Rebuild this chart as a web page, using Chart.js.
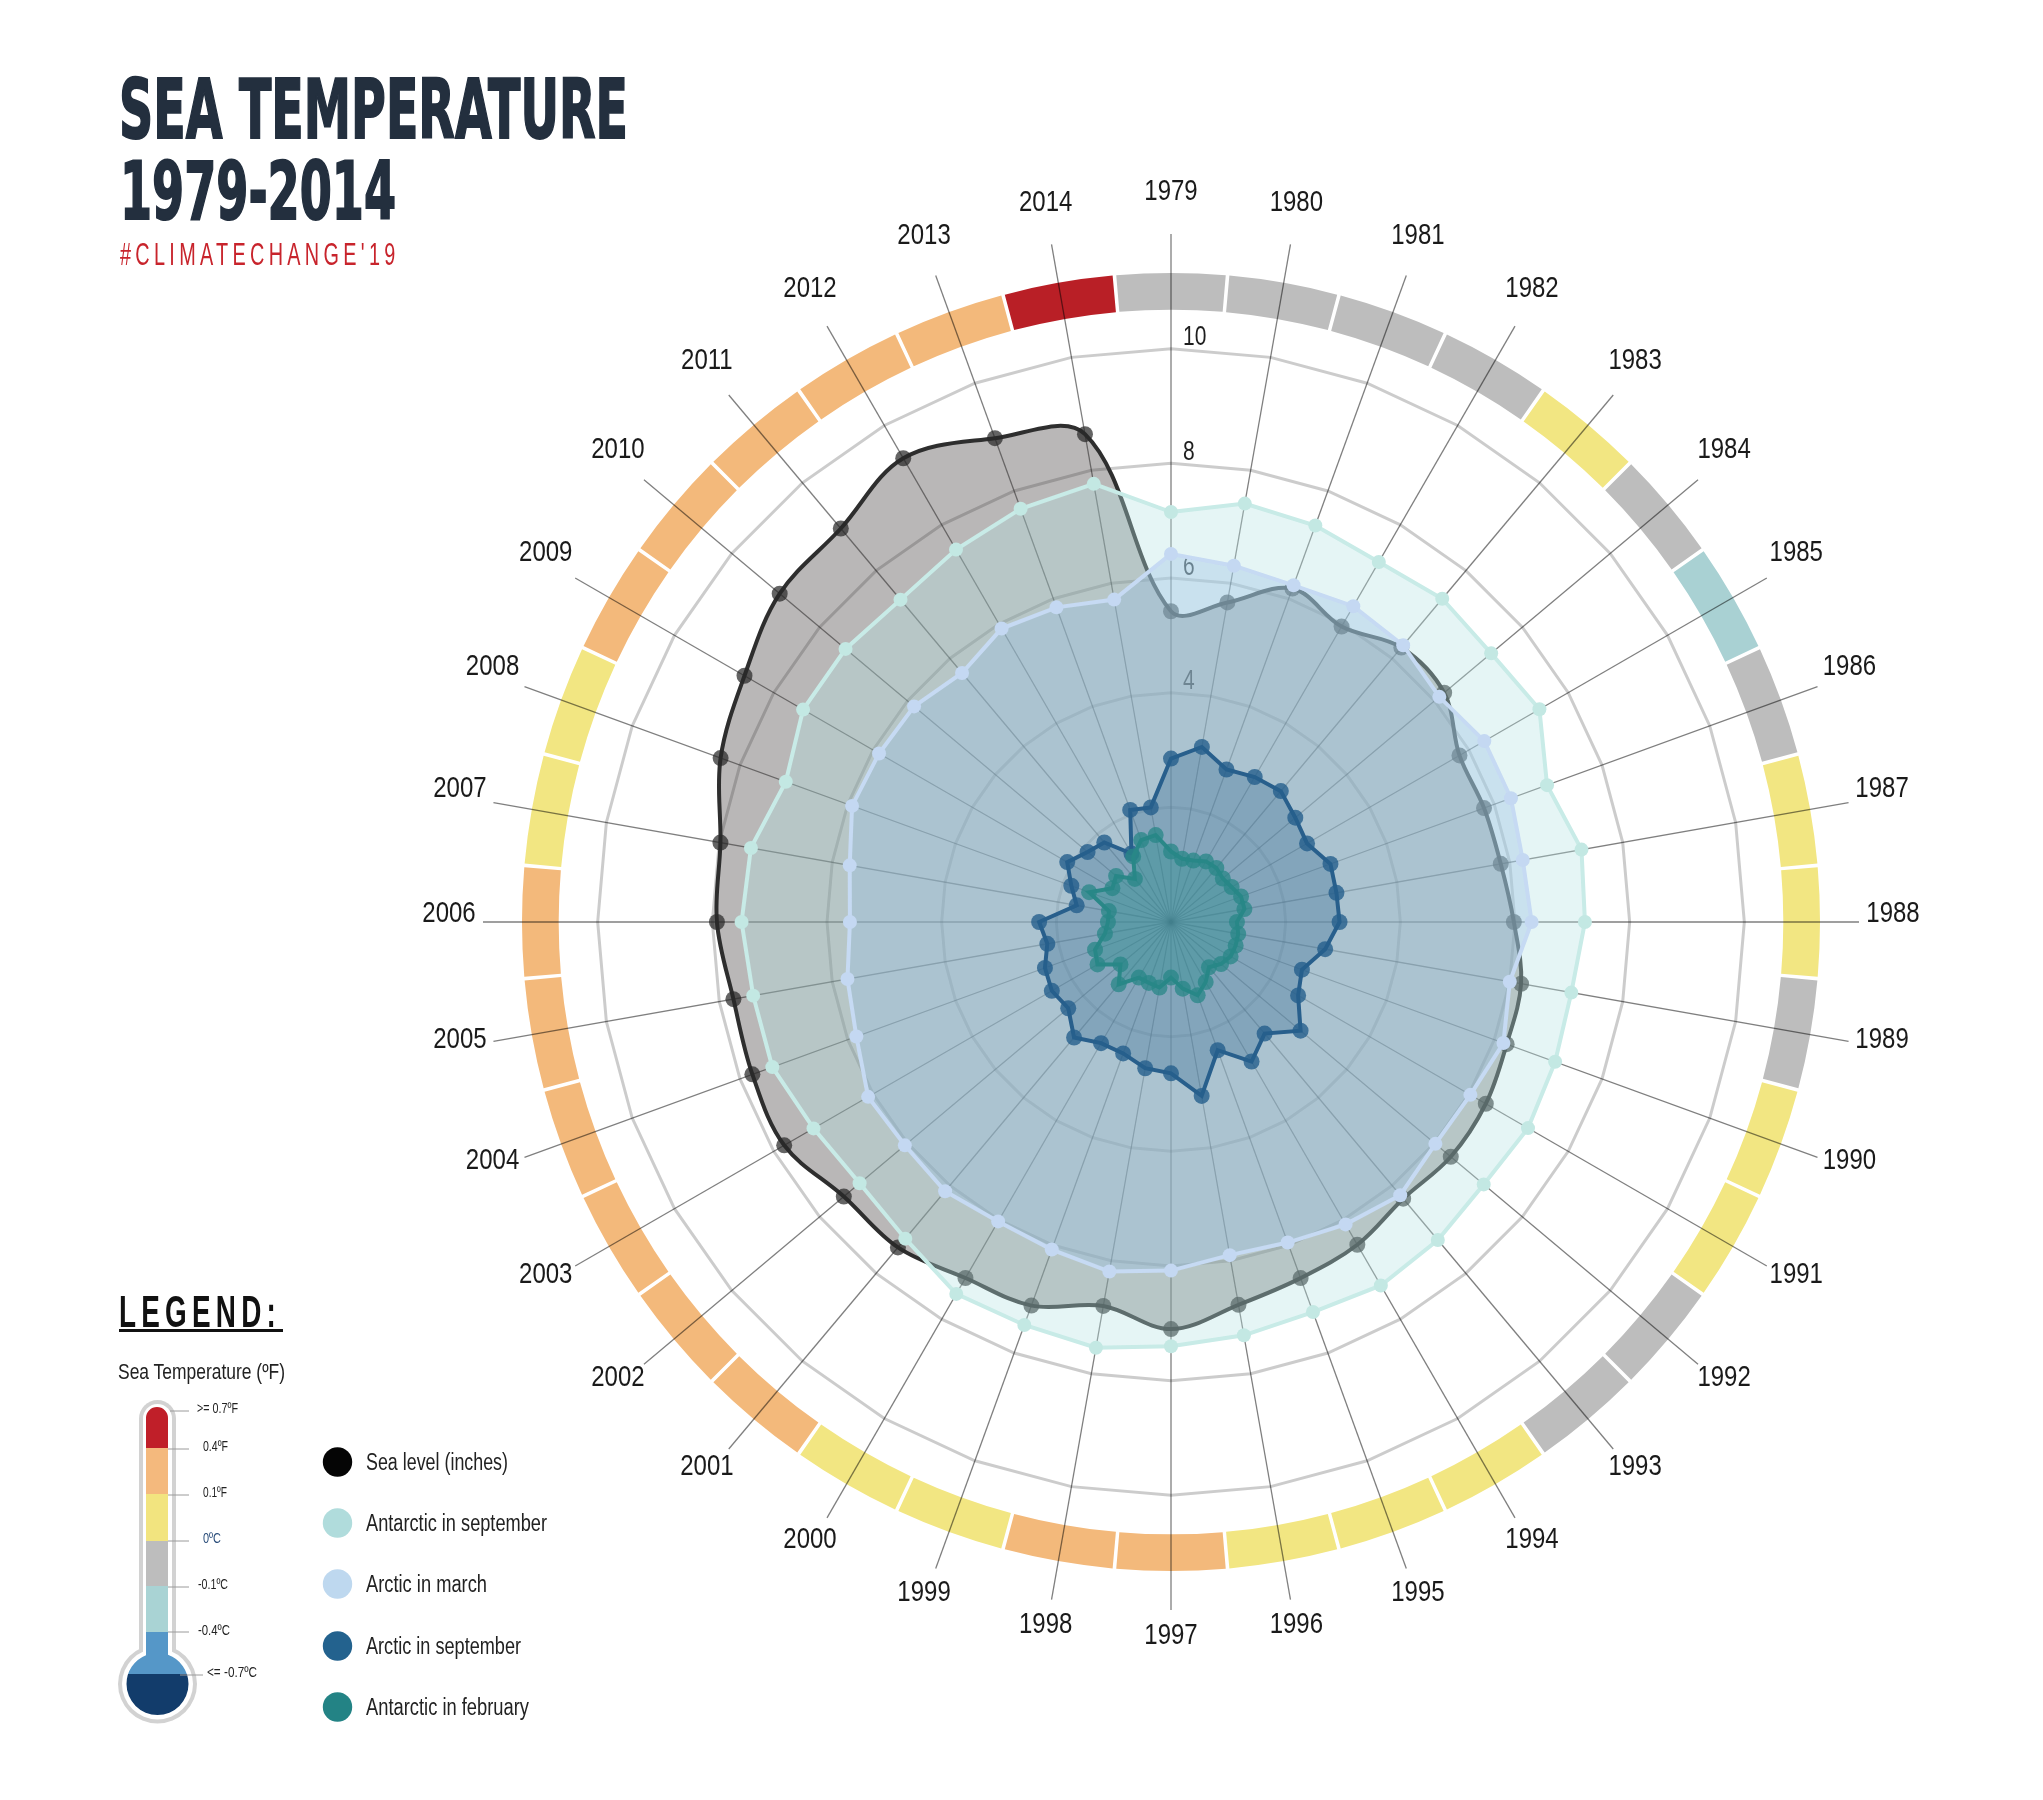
<!DOCTYPE html>
<html>
<head>
<meta charset="utf-8">
<title>Sea temperature 1979-2014</title>
<script src="https://cdn.jsdelivr.net/npm/chart.js@4.4.1/dist/chart.umd.min.js"></script>
<style>
  html, body { margin: 0; background: #fff; }
  #wrap { position: relative; width: 2043px; height: 1800px; }
  #chart, #deco { position: absolute; left: 0; top: 0; }
</style>
</head>
<body>
<div id="wrap">
  <canvas id="chart" width="2043" height="1800"></canvas>
  <svg id="deco" width="2043" height="1800" font-family="'Liberation Sans',sans-serif">
    <!-- title -->
    <g font-family="'DejaVu Sans',sans-serif" font-weight="bold" fill="#232f3e" stroke="#232f3e" stroke-width="2">
      <text x="119" y="138" font-size="82" textLength="509" lengthAdjust="spacingAndGlyphs">SEA TEMPERATURE</text>
      <text x="120" y="219" font-size="80" textLength="276" lengthAdjust="spacingAndGlyphs">1979-2014</text>
    </g>
    <text transform="translate(120,265) scale(0.62,1)" x="0" y="0" font-size="32" fill="#c8242c" textLength="444" lengthAdjust="spacing">#CLIMATECHANGE'19</text>

    <!-- legend heading -->
    <text transform="translate(119,1327) scale(0.62,1)" x="0" y="0" font-size="45" font-weight="bold" fill="#111" textLength="253" lengthAdjust="spacing">LEGEND:</text>
    <rect x="119" y="1329" width="164" height="3" fill="#111"/>
    <text x="118" y="1379" font-size="22" fill="#222" textLength="167" lengthAdjust="spacingAndGlyphs">Sea Temperature (ºF)</text>

    <!-- thermometer -->
    <defs>
      <clipPath id="mercury">
        <rect x="146" y="1407" width="22" height="290" rx="11"/>
        <circle cx="157.5" cy="1684" r="31"/>
      </clipPath>
    </defs>
    <rect x="139" y="1400" width="37" height="290" rx="18.5" fill="#d2d2d2"/>
    <circle cx="157.5" cy="1684" r="39.5" fill="#d2d2d2"/>
    <rect x="143" y="1404" width="29" height="290" rx="14.5" fill="#fff"/>
    <circle cx="157.5" cy="1684" r="35.5" fill="#fff"/>
    <g clip-path="url(#mercury)">
      <rect x="110" y="1400" width="100" height="48" fill="#c01f29"/>
      <rect x="110" y="1448" width="100" height="46" fill="#f4b97d"/>
      <rect x="110" y="1494" width="100" height="47" fill="#f2e47f"/>
      <rect x="110" y="1541" width="100" height="45" fill="#bdbdbd"/>
      <rect x="110" y="1586" width="100" height="46" fill="#a9d3d4"/>
      <rect x="110" y="1632" width="100" height="42" fill="#5597c8"/>
      <rect x="110" y="1674" width="100" height="60" fill="#123c6b"/>
    </g>
    <g stroke="#9a9a9a" stroke-width="1">
      <line x1="170" y1="1411" x2="189" y2="1411"/>
      <line x1="168" y1="1449" x2="189" y2="1449"/>
      <line x1="168" y1="1495" x2="189" y2="1495"/>
      <line x1="168" y1="1541" x2="189" y2="1541"/>
      <line x1="168" y1="1587" x2="189" y2="1587"/>
      <line x1="168" y1="1632" x2="189" y2="1632"/>
      <line x1="180" y1="1675" x2="203" y2="1675"/>
    </g>
    <g font-size="15" fill="#222">
      <text x="197" y="1413" textLength="41" lengthAdjust="spacingAndGlyphs">&gt;= 0.7ºF</text>
      <text x="203" y="1451" textLength="25" lengthAdjust="spacingAndGlyphs">0.4ºF</text>
      <text x="203" y="1497" textLength="24" lengthAdjust="spacingAndGlyphs">0.1ºF</text>
      <text x="203" y="1543" fill="#2a4d7a" textLength="18" lengthAdjust="spacingAndGlyphs">0ºC</text>
      <text x="198" y="1589" textLength="30" lengthAdjust="spacingAndGlyphs">-0.1ºC</text>
      <text x="198" y="1635" textLength="32" lengthAdjust="spacingAndGlyphs">-0.4ºC</text>
      <text x="207" y="1677" textLength="50" lengthAdjust="spacingAndGlyphs">&lt;= -0.7ºC</text>
    </g>

    <!-- series legend -->
    <g font-size="23" fill="#222">
      <circle cx="337.5" cy="1462" r="14.7" fill="#050505"/>
      <text x="366" y="1470" textLength="142" lengthAdjust="spacingAndGlyphs">Sea level (inches)</text>
      <circle cx="337.5" cy="1523" r="14.7" fill="#b0dcdc"/>
      <text x="366" y="1531" textLength="181" lengthAdjust="spacingAndGlyphs">Antarctic in september</text>
      <circle cx="337.5" cy="1584" r="14.7" fill="#bed8ef"/>
      <text x="366" y="1592" textLength="121" lengthAdjust="spacingAndGlyphs">Arctic in march</text>
      <circle cx="337.5" cy="1646" r="14.7" fill="#23628e"/>
      <text x="366" y="1654" textLength="155" lengthAdjust="spacingAndGlyphs">Arctic in september</text>
      <circle cx="337.5" cy="1707" r="14.7" fill="#238385"/>
      <text x="366" y="1715" textLength="163" lengthAdjust="spacingAndGlyphs">Antarctic in february</text>
    </g>
  </svg>
</div>

<script>
// years round the circle, clockwise from the top
const years = ['1979', '1980', '1981', '1982', '1983', '1984', '1985', '1986', '1987',
  '1988', '1989', '1990', '1991', '1992', '1993', '1994', '1995', '1996',
  '1997', '1998', '1999', '2000', '2001', '2002', '2003', '2004', '2005',
  '2006', '2007', '2008', '2009', '2010', '2011', '2012', '2013', '2014'];

const seaLevel = [5.42, 5.66, 6.19, 5.95, 6.25, 6.22, 5.81, 5.81, 5.84,
  5.98, 6.2, 6.23, 6.34, 6.37, 6.3, 6.5, 6.61, 6.78,
  7.1, 6.8, 7.12, 7.17, 7.41, 7.45, 7.79, 7.77, 7.75,
  7.92, 7.98, 8.36, 8.59, 8.91, 8.96, 9.34, 8.98, 8.64];

const antarcticSep = [7.15, 7.41, 7.36, 7.25, 7.36, 7.29, 7.42, 6.98, 7.27,
  7.22, 7.09, 7.13, 7.19, 7.12, 7.24, 7.32, 7.24, 7.32,
  7.4, 7.54, 7.48, 7.49, 7.21, 7.09, 7.2, 7.4, 7.4,
  7.49, 7.44, 7.15, 7.41, 7.41, 7.34, 7.5, 7.67, 7.76];

const arcticMar = [6.42, 6.31, 6.25, 6.36, 6.3, 6.11, 6.31, 6.31, 6.23,
  6.29, 6.0, 6.17, 6.03, 6.02, 6.22, 6.09, 5.95, 5.9,
  6.08, 6.19, 6.08, 6.03, 6.13, 6.06, 6.1, 5.84, 5.73,
  5.6, 5.69, 5.92, 5.88, 5.85, 5.67, 5.91, 5.84, 5.71];

const arcticSep = [2.85, 3.1, 2.83, 2.92, 2.98, 2.83, 2.74, 2.96, 2.93,
  2.94, 2.73, 2.43, 2.56, 2.95, 2.54, 2.81, 2.38, 3.08,
  2.64, 2.59, 2.44, 2.44, 2.63, 2.34, 2.4, 2.34, 2.19,
  2.3, 1.67, 1.85, 2.09, 1.9, 1.81, 1.38, 2.08, 2.03];

const antarcticFeb = [1.23, 1.12, 1.14, 1.22, 1.23, 1.18, 1.22, 1.3, 1.3,
  1.15, 1.19, 1.2, 1.2, 1.14, 1.03, 1.21, 1.36, 1.18,
  0.97, 1.16, 1.13, 1.12, 1.42, 1.15, 1.48, 1.41, 1.17,
  1.1, 1.1, 1.52, 1.18, 1.25, 0.98, 1.32, 1.52, 1.54];

// sea temperature class of each year (outer ring)
const tempClass = ['g', 'g', 'g', 'g', 'y', 'g', 't', 'g', 'y',
  'y', 'g', 'y', 'y', 'g', 'g', 'y', 'y', 'y',
  'o', 'o', 'y', 'y', 'o', 'o', 'o', 'o', 'o',
  'o', 'y', 'y', 'o', 'o', 'o', 'o', 'o', 'r'];

const radialTicks = [4, 6, 8, 10];

const ringColors = { r: '#b91f26', o: '#f3b97b', y: '#f2e682', g: '#bdbdbd', t: '#a9d1d3' };
const FONT = "'Liberation Sans', 'DejaVu Sans', sans-serif";

// draws condensed text (the original uses a narrow face)
function narrowText(ctx, str, x, y, squeeze) {
  ctx.save();
  ctx.translate(x, y);
  ctx.scale(squeeze, 1);
  ctx.fillText(str, 0, 0);
  ctx.restore();
}

const ringPlugin = {
  id: 'tempRing',
  beforeDraw(chart) {
    const s = chart.scales.r;
    const ctx = chart.ctx;
    const r0 = s.getDistanceFromCenterForValue(10.68);
    const r1 = s.getDistanceFromCenterForValue(11.32);
    const half = Math.PI / years.length;
    ctx.save();
    ctx.lineWidth = r1 - r0;
    tempClass.forEach((c, i) => {
      const a = s.getIndexAngle(i) - Math.PI / 2;
      ctx.strokeStyle = ringColors[c];
      ctx.beginPath();
      ctx.arc(s.xCenter, s.yCenter, (r0 + r1) / 2, a - half + 0.0028, a + half - 0.0028);
      ctx.stroke();
    });
    ctx.restore();
  }
};

const tickPlugin = {
  id: 'tickText',
  beforeDatasetsDraw(chart) {
    const s = chart.scales.r;
    const ctx = chart.ctx;
    ctx.save();
    ctx.font = '28px ' + FONT;
    ctx.fillStyle = '#1e1e1e';
    ctx.textAlign = 'left';
    ctx.textBaseline = 'middle';
    radialTicks.forEach(v => {
      narrowText(ctx, String(v), s.xCenter + 12, s.yCenter - s.getDistanceFromCenterForValue(v) - 11, 0.75);
    });
    ctx.restore();
  }
};

// year labels centred on their spokes, a little beyond the spoke ends
const yearLabelPlugin = {
  id: 'yearLabels',
  afterDraw(chart) {
    const s = chart.scales.r;
    const ctx = chart.ctx;
    const dist = s.drawingArea * 722 / 688;
    ctx.save();
    ctx.font = '30px ' + FONT;
    ctx.fillStyle = '#1a1a1a';
    ctx.textAlign = 'center';
    ctx.textBaseline = 'middle';
    years.forEach((y, i) => {
      const p = s.getPointPosition(i, dist);
      narrowText(ctx, y, p.x, p.y - 8, 0.8);
    });
    ctx.restore();
  }
};

new Chart(document.getElementById('chart'), {
  type: 'radar',
  data: {
    labels: years,
    datasets: [
      {
        label: 'Sea level (inches)', data: seaLevel, order: 5,
        borderColor: '#2e2e2e', backgroundColor: 'rgba(60,55,55,0.36)',
        pointBackgroundColor: 'rgba(40,40,40,0.72)', pointRadius: 8,
        borderWidth: 4, tension: 0.35
      },
      {
        label: 'Antarctic in september', data: antarcticSep, order: 4,
        borderColor: '#c8ebe7', backgroundColor: 'rgba(180,225,225,0.35)',
        pointBackgroundColor: '#c3e8e3', pointRadius: 7, borderWidth: 4
      },
      {
        label: 'Arctic in march', data: arcticMar, order: 3,
        borderColor: '#c6daf3', backgroundColor: 'rgba(150,190,225,0.35)',
        pointBackgroundColor: '#c4d8f2', pointRadius: 7, borderWidth: 4
      },
      {
        label: 'Arctic in september', data: arcticSep, order: 2,
        borderColor: '#285f8c', backgroundColor: 'rgba(40,95,140,0.3)',
        pointBackgroundColor: 'rgba(38,95,140,0.8)', pointRadius: 8, borderWidth: 4
      },
      {
        label: 'Antarctic in february', data: antarcticFeb, order: 1,
        borderColor: '#2b8888', backgroundColor: 'rgba(40,140,140,0.4)',
        pointBackgroundColor: 'rgba(40,135,135,0.75)', pointRadius: 8, borderWidth: 4
      }
    ]
  },
  options: {
    responsive: false,
    animation: false,
    devicePixelRatio: 1,
    layout: { padding: { left: 483, right: 184, top: 234, bottom: 190 } },
    datasets: { radar: { pointBorderWidth: 0 } },
    elements: { point: { borderWidth: 0, hoverRadius: 8, hoverBorderWidth: 0 } },
    plugins: { legend: { display: false }, tooltip: { enabled: false } },
    scales: {
      r: {
        min: 0,
        max: 12,
        ticks: { stepSize: 2, display: false },
        grid: {
          color: ctx => (ctx.tick && ctx.tick.value >= 12) ? 'rgba(0,0,0,0)' : 'rgba(0,0,0,0.2)',
          lineWidth: 3
        },
        angleLines: { color: 'rgba(0,0,0,0.5)', lineWidth: 1.3 },
        pointLabels: { display: false }
      }
    }
  },
  plugins: [ringPlugin, tickPlugin, yearLabelPlugin]
});
</script>
</body>
</html>
